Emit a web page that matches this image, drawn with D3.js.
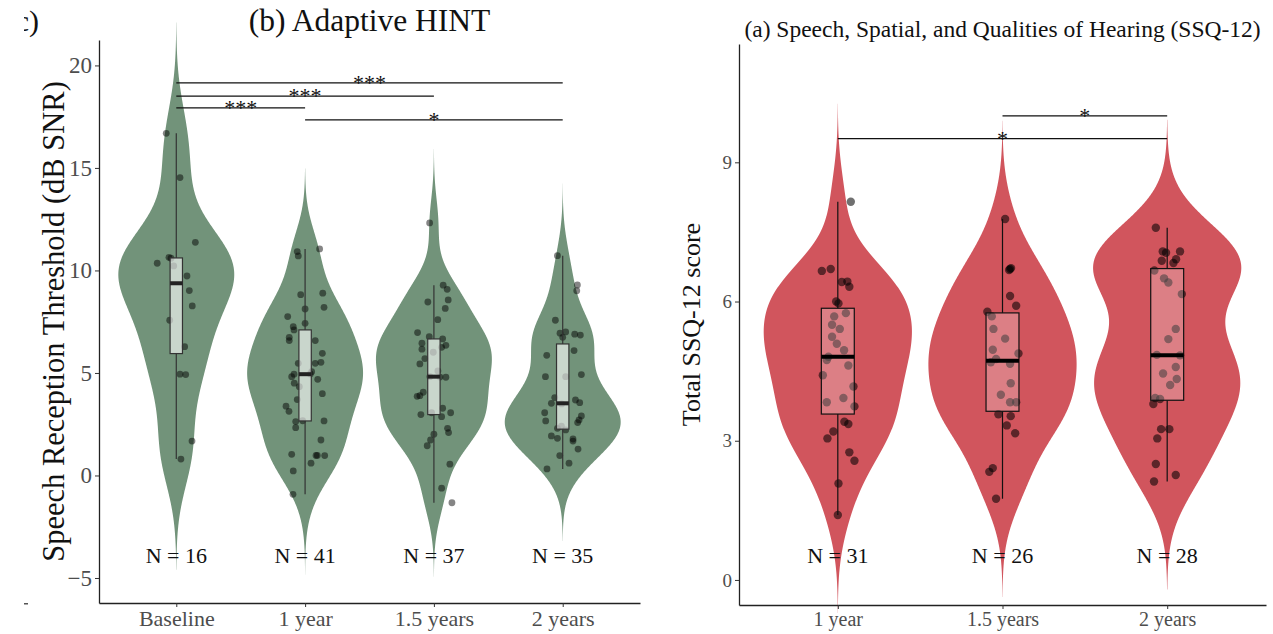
<!DOCTYPE html>
<html lang="en">
<head>
<meta charset="UTF-8">
<title>Adaptive HINT and SSQ-12</title>
<script src="https://cdn.jsdelivr.net/npm/d3@7"></script>
<style>
    body { margin: 0; background: #fff; }
    svg { display: block; font-family: "Liberation Serif", "DejaVu Serif", serif; }
</style>
</head>
<body>
<svg id="chart" width="1273" height="634"></svg>
<script>
    // ---- (b) Adaptive HINT ----
    const hintGroups = ["Baseline", "1 year", "1.5 years", "2 years"];
    const hintTicks = [-5, 0, 5, 10, 15, 20];
    // each point: [SRT in dB SNR, horizontal jitter as share of the category step]
    const hintBaseline = [[16.69,-0.078],[14.53,0.029],[11.37,0.148],[10.64,-0.057],[10.6,-0.041],[10.35,-0.148],
        [10.22,-0.02],[9.73,0.083],[9.02,0.101],[8.27,0.124],[7.57,-0.051],[6.28,0.065],[4.94,0.029],[4.92,0.073],
        [1.68,0.122],[0.8,0.036]];
    const hint1y = [[11.05,0.113],[10.92,-0.061],[10.71,-0.053],[8.89,0.137],[8.82,-0.034],[8.2,0.147],[8.12,0],
        [7.75,-0.135],[7.42,0],[7.26,-0.092],[7.1,-0.086],[6.74,-0.123],[6.58,-0.123],[6.58,0.079],[5.96,0.134],
        [5.52,0.123],[5.47,0.079],[5.47,-0.053],[5.06,0.051],[4.94,-0.086],[4.95,0.04],[4.82,-0.104],[4.69,0.098],
        [4.5,-0.084],[4.33,-0.045],[3.99,0.134],[3.7,-0.061],[3.38,-0.148],[3.13,-0.125],[2.67,-0.019],[2.66,0.147],
        [2.63,-0.073],[2.33,-0.073],[1.73,0.123],[1.03,-0.104],[0.98,0.085],[0.98,0.095],[0.97,0.152],[0.6,0.046],
        [0.22,-0.092],[-0.92,-0.094]];
    const hint15y = [[12.32,-0.033],[9.28,0.072],[9.08,0.103],[8.56,0.111],[8.46,-0.047],[8.15,0.088],[7.6,0.03],
        [6.97,-0.127],[6.77,-0.036],[6.66,0.068],[6.45,-0.093],[6.35,0.093],[6.25,0.06],[6.16,-0.093],[6.01,-0.005],
        [5.7,-0.07],[5.44,-0.109],[5.1,0.031],[4.82,-0.031],[4.8,0.047],[4.79,0.093],[4.06,-0.083],[3.89,-0.109],
        [3.86,-0.13],[3.28,0.068],[3.06,0.13],[3.06,-0.018],[2.97,-0.101],[2.87,0.06],[2.3,0.106],[2.09,0.114],
        [2.01,0],[1.73,-0.026],[1.45,-0.052],[0.55,0.124],[-0.62,0.06],[-1.33,0.14]];
    const hint2y = [[10.72,-0.041],[9.29,0.114],[9.01,0.109],[7.57,-0.057],[7.0,0.023],[6.94,-0.021],[6.89,0.093],
        [6.85,0.137],[6.74,0],[6.09,0.088],[5.86,-0.124],[4.92,0.145],[4.82,-0.134],[4.82,0.023],[3.8,-0.062],
        [3.68,0.099],[3.55,0.132],[3.52,-0.088],[3.49,-0.008],[3.06,-0.14],[2.9,0.145],[2.71,0.127],[2.66,-0.132],
        [2.58,0.116],[2.41,-0.01],[2.3,-0.041],[2.22,0.023],[1.93,-0.088],[1.81,-0.041],[1.78,0.08],[1.68,0.08],
        [1.29,0.119],[0.97,-0.023],[0.6,0.049],[0.32,-0.122]];
    // significance brackets: [from, to, height, label]
    const hintPairs = [["Baseline","2 years",19.15,"***"],["Baseline","1.5 years",18.5,"***"],
        ["Baseline","1 year",17.93,"***"],["1 year","2 years",17.34,"*"]];

    // ---- (a) SSQ-12 ----
    const ssqGroups = ["1 year", "1.5 years", "2 years"];
    const ssqTicks = [0, 3, 6, 9];
    const ssq1y = [[8.15,0.079],[6.7,-0.043],[6.66,-0.097],[6.43,0.058],[6.42,0.024],[6.32,0.07],[6.0,-0.01],
        [5.96,0.004],[5.75,0.049],[5.68,-0.022],[5.5,-0.035],[5.41,0.012],[5.24,-0.035],[5.09,-0.006],[4.95,0.038],
        [4.81,-0.057],[4.74,-0.067],[4.62,0.064],[4.41,-0.091],[4.17,0.095],[3.92,0.034],[3.83,-0.067],[3.74,0.101],
        [3.41,0.04],[3.36,0.064],[3.2,-0.027],[3.05,-0.063],[2.75,0.07],[2.57,0.101],[2.08,0.004],[1.4,0]];
    const ssq15y = [[7.78,0.016],[6.72,0.052],[6.7,0.046],[6.68,0.04],[6.12,0.046],[5.91,0.083],[5.78,-0.092],
        [5.68,-0.065],[5.41,-0.055],[5.2,0.016],[4.96,-0.059],[4.88,0.097],[4.76,-0.039],[4.69,-0.071],[4.66,0.046],
        [4.24,0.05],[3.99,-0.01],[3.83,0.046],[3.83,0.083],[3.57,-0.025],[3.53,0.05],[3.33,0.026],[3.16,0.077],
        [2.41,-0.059],[2.33,-0.08],[1.75,-0.039]];
    const ssq2y = [[7.59,-0.069],[7.08,-0.027],[7.05,-0.007],[7.08,0.078],[6.88,-0.033],[6.83,0.038],[6.91,0.054],
        [6.67,-0.078],[6.5,-0.019],[6.41,0.007],[6.16,0.089],[5.41,0.052],[5.19,0.007],[4.85,-0.063],[4.84,0.078],
        [4.59,0.052],[4.45,-0.025],[4.33,0.058],[4.2,0.018],[3.92,-0.073],[3.9,-0.043],[3.79,-0.084],[3.25,-0.037],
        [3.25,0.013],[3.05,-0.06],[2.5,-0.069],[2.26,0.052],[2.12,-0.08]];
    const ssqPairs = [["1.5 years","2 years",10.0,"*"],["1 year","2 years",9.51,"*"]];

    const svg = d3.select("#chart");

    // R's bw.nrd0 and a gaussian density over min-3bw .. max+3bw (like geom_violin with trim = FALSE)
    function nrd0(sorted) {
        const sd = d3.deviation(sorted);
        const iqr = d3.quantile(sorted, 0.75) - d3.quantile(sorted, 0.25);
        return 0.9 * Math.min(sd, iqr / 1.34) * Math.pow(sorted.length, -0.2);
    }
    function density(vals, bw) {
        const lo = d3.min(vals) - 3 * bw, hi = d3.max(vals) + 3 * bw;
        return d3.range(512).map(i => {
            const t = lo + (hi - lo) * i / 511;
            return [t, d3.mean(vals, v => Math.exp(-0.5 * ((t - v) / bw) ** 2))];
        });
    }

    function drawPanel(o) {
        const g = svg.append("g");
        const x = d3.scalePoint().domain(o.groups).range(o.xRange).padding(0.6);
        const y = d3.scaleLinear().domain(o.yDomain).range(o.yRange);
        const step = x.step();

        o.groups.forEach((name, i) => {
            const pts = o.series[i];
            const sorted = pts.map(p => p[0]).sort(d3.ascending);
            const dens = density(sorted, nrd0(sorted));
            const maxD = d3.max(dens, d => d[1]);
            const cx = x(name);
            const half = 0.45 * step;

            g.append("path")
                .datum(dens)
                .attr("d", d3.area()
                    .y(d => y(d[0]))
                    .x0(d => cx - d[1] / maxD * half)
                    .x1(d => cx + d[1] / maxD * half))
                .attr("fill", o.violin);

            g.append("g").selectAll("circle")
                .data(pts)
                .enter().append("circle")
                .attr("cx", d => cx + d[1] * step)
                .attr("cy", d => y(d[0]))
                .attr("r", o.r)
                .attr("fill", "#000")
                .attr("fill-opacity", o.ptOpacity);

            // boxplot stats (R type 7 quantiles, 1.5 IQR whiskers)
            const q1 = d3.quantile(sorted, 0.25), med = d3.quantile(sorted, 0.5), q3 = d3.quantile(sorted, 0.75);
            const iqr = q3 - q1;
            const lo = d3.min(sorted.filter(v => v >= q1 - 1.5 * iqr));
            const hi = d3.max(sorted.filter(v => v <= q3 + 1.5 * iqr));
            const bw = o.boxFrac * step;

            [[q3, hi], [q1, lo]].forEach(s => {
                g.append("line")
                    .attr("x1", cx).attr("x2", cx)
                    .attr("y1", y(s[0])).attr("y2", y(s[1]))
                    .attr("stroke", o.boxStroke).attr("stroke-width", 1.2);
            });
            g.append("rect")
                .attr("x", cx - bw / 2).attr("width", bw)
                .attr("y", y(q3)).attr("height", y(q1) - y(q3))
                .attr("fill", "#fff").attr("fill-opacity", o.boxAlpha)
                .attr("stroke", o.boxStroke).attr("stroke-width", 1.2);
            g.append("line")
                .attr("x1", cx - bw / 2).attr("x2", cx + bw / 2)
                .attr("y1", y(med)).attr("y2", y(med))
                .attr("stroke", o.medStroke).attr("stroke-width", 4);

            g.append("text")
                .attr("x", cx).attr("y", y(o.nAt))
                .attr("text-anchor", "middle")
                .attr("font-size", o.nSize)
                .attr("fill", "#111")
                .text("N = " + pts.length);
        });

        // significance brackets
        o.pairs.forEach(p => {
            const x1 = x(p[0]), x2 = x(p[1]), yy = y(p[2]);
            g.append("line")
                .attr("x1", x1).attr("x2", x2).attr("y1", yy).attr("y2", yy)
                .attr("stroke", "#111").attr("stroke-width", 1.3);
            g.append("text")
                .attr("x", (x1 + x2) / 2).attr("y", yy + 7)
                .attr("text-anchor", "middle")
                .attr("font-size", 22)
                .attr("fill", "#111")
                .text(p[3]);
        });

        // axes
        const ay = g.append("g")
            .attr("transform", `translate(${o.xRange[0]},0)`)
            .call(d3.axisLeft(y).tickValues(o.ticks).tickSize(4).tickSizeOuter(0).tickPadding(3));
        const ax = g.append("g")
            .attr("transform", `translate(0,${o.yRange[0]})`)
            .call(d3.axisBottom(x).tickSize(4).tickSizeOuter(0).tickPadding(3));
        [ay, ax].forEach(a => {
            a.attr("font-family", null);
            a.select(".domain").attr("stroke", "#222").attr("stroke-width", 1.3);
            a.selectAll(".tick line").attr("stroke", "#333");
            a.selectAll(".tick text").attr("fill", "#4d4d4d");
        });
        ay.selectAll(".tick text").attr("font-size", o.yTickSize);
        ax.selectAll(".tick text").attr("font-size", o.xTickSize);

        g.append("text")
            .attr("transform", `translate(${o.yLabelX},${(o.yRange[0] + o.yRange[1]) / 2}) rotate(-90)`)
            .attr("text-anchor", "middle")
            .attr("font-size", o.yLabelSize)
            .attr("fill", "#111")
            .text(o.yLabel);

        g.append("text")
            .attr("x", (o.xRange[0] + o.xRange[1]) / 2).attr("y", o.titleY)
            .attr("text-anchor", "middle")
            .attr("font-size", o.titleSize)
            .attr("fill", "#111")
            .text(o.title);
    }

    drawPanel({
        groups: hintGroups, series: [hintBaseline, hint1y, hint15y, hint2y], pairs: hintPairs, ticks: hintTicks,
        xRange: [99, 640], yDomain: [-6.22, 21.24], yRange: [603, 40],
        violin: "#72937a", boxStroke: "#333", medStroke: "#222", boxAlpha: 0.62, boxFrac: 0.096,
        r: 3.4, ptOpacity: 0.48, nAt: -4.27, nSize: 22,
        yTickSize: 23, xTickSize: 22, yLabel: "Speech Reception Threshold (dB SNR)", yLabelX: 64, yLabelSize: 30.5,
        title: "(b) Adaptive HINT", titleY: 31, titleSize: 31.5
    });

    drawPanel({
        groups: ssqGroups, series: [ssq1y, ssq15y, ssq2y], pairs: ssqPairs, ticks: ssqTicks,
        xRange: [739, 1266], yDomain: [-0.54, 11.55], yRange: [605, 44],
        violin: "#d1555d", boxStroke: "#111", medStroke: "#000", boxAlpha: 0.25, boxFrac: 0.2,
        r: 4.2, ptOpacity: 0.56, nAt: 0.37, nSize: 22,
        yTickSize: 19, xTickSize: 20, yLabel: "Total SSQ-12 score", yLabelX: 700, yLabelSize: 26,
        title: "(a) Speech, Spatial, and Qualities of Hearing (SSQ-12)", titleY: 37, titleSize: 23.5
    });

    // leftover bits of a neighbouring panel at the left edge
    svg.append("clipPath").attr("id", "edge")
        .append("rect").attr("x", 24).attr("y", 0).attr("width", 30).attr("height", 50);
    svg.append("text")
        .attr("clip-path", "url(#edge)")
        .attr("x", 39).attr("y", 31)
        .attr("text-anchor", "end")
        .attr("font-size", 30)
        .attr("fill", "#111")
        .text("(c)");
    svg.append("rect").attr("x", 24).attr("y", 603).attr("width", 4).attr("height", 1.5).attr("fill", "#555");
</script>
</body>
</html>
